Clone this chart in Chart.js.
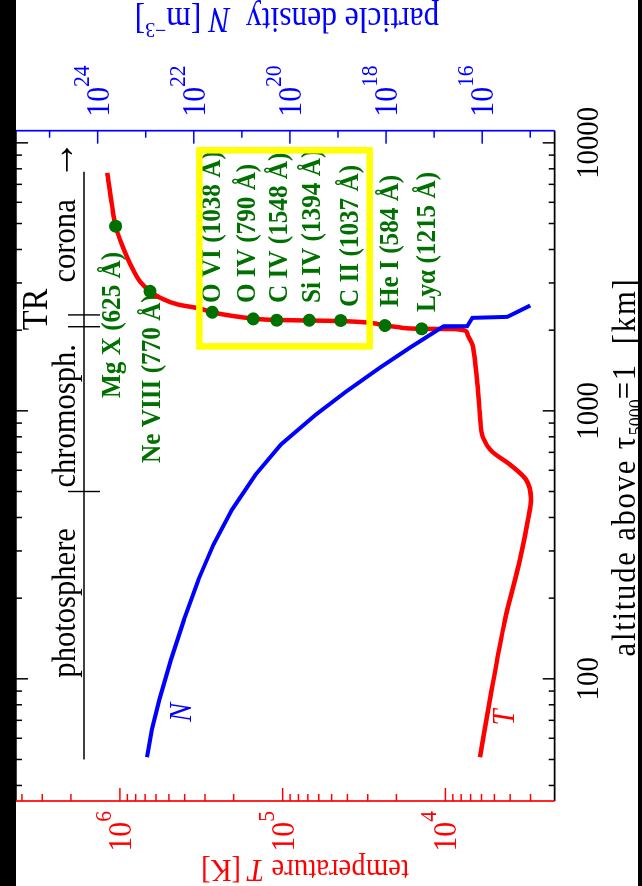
<!DOCTYPE html>
<html>
<head>
<meta charset="utf-8">
<script src="https://cdn.jsdelivr.net/npm/chart.js@4.4.1/dist/chart.umd.min.js"></script>
<style>
html, body { margin: 0; padding: 0; background: #000; overflow: hidden; }
#wrap { position: absolute; left: 0; top: 0; width: 886px; height: 642px;
        transform-origin: 0 0; transform: translateY(886px) rotate(-90deg); }
</style>
</head>
<body>
<div id="wrap"><canvas id="chart" width="886" height="642"></canvas></div>
<script>
// temperature curve: altitude [km] and T [K]
const tempAlt = [51, 84, 166, 279, 393, 467, 554, 630, 705, 795, 952, 1309, 1737, 1960, 2019, 2023, 2048, 2081, 2163, 2173,
                 2183, 2211, 2268, 2333, 2408, 2493, 2647, 2795, 3037, 3367, 4174, 4885, 5887, 7727];
const tempK = [6125, 5321, 4302, 3479, 3107, 2978, 3197, 4009, 5172, 5875, 6125, 6395, 6768, 7367, 8730, 13990, 19010, 23500, 43900, 68900,
               109000, 152000, 211000, 272000, 322000, 440000, 568000, 654000, 753000, 832000, 972000, 1063000, 1120000, 1197000];

// particle density curve: altitude [km] and N [m^-3]
const densAlt = [51, 65, 84, 118, 166, 235, 317, 428, 578, 749, 969, 1180, 1451, 1723, 2063, 2069, 2223, 2242, 2472];
const densN = [9.4e22, 7.4e22, 5.18e22, 2.98e22, 1.6e22, 7.98e21, 3.89e21, 1.6e21, 5.19e20, 1.53e20, 2.86e19, 6.78e18, 1.33e18, 3.16e17,
               6.5e16, 2.05e16, 1.6e16, 3.0e15, 1.0e15];

// spectral lines (green dots on the T curve)
const lineNames = ['Mg X (625 Å)', 'Ne VIII (770 Å)', 'O VI (1038 Å)', 'O IV (790 Å)', 'C IV (1548 Å)', 'Si IV (1394 Å)',
                   'C II (1037 Å)', 'He I (584 Å)', 'Lyα (1215 Å)'];
const lineAlt = [4885, 2795, 2333, 2204, 2178, 2178, 2173, 2081, 2023];
const lineTemp = [1063000, 654000, 270800, 151600, 108900, 68640, 44000, 23500, 13985];
const lineLabelAlt = [1116, 639, 2525, 2525, 2525, 2525, 2440, 2440, 2338]; // where each label starts

// atmosphere layers
const regionNames = ['photosphere', 'chromosph.', 'TR', 'corona'];
const regionLabelAlt = [101, 517, 2000, 3011];
const regionEdges = [500, 2060, 2280];
const regionSpan = [50, 7800];

// axes
const altMajor = [100, 1000, 10000];
const altMinor = [40, 50, 60, 70, 80, 90, 200, 300, 400, 500, 600, 700, 800, 900,
                  2000, 3000, 4000, 5000, 6000, 7000, 8000, 9000];
const tempMajor = [1e4, 1e5, 1e6];
const tempExp = ['4', '5', '6'];
const tempMinor = [3000, 4000, 5000, 6000, 7000, 8000, 9000, 2e4, 3e4, 4e4, 5e4, 6e4, 7e4, 8e4, 9e4,
                   2e5, 3e5, 4e5, 5e5, 6e5, 7e5, 8e5, 9e5, 2e6, 3e6, 4e6];
const densMajor = [1e16, 1e18, 1e20, 1e22, 1e24];
const densExp = ['16', '18', '20', '22', '24'];
const densMinor = [1e15, 1e17, 1e19, 1e21, 1e23, 1e25];

// yellow box around the TR lines (T range, altitude range)
const boxTemp = [3.25e5, 2.92e4];
const boxAlt = [1740, 9380];

const RED = '#ff0000', BLUE = '#0000ff', GREEN = '#007000', YELLOW = '#ffff00';
const SERIF = '"Liberation Serif", "Times New Roman", serif';
const SQUEEZE = 0.9; // text in the picture is a bit narrow

function fontOf(p) { return (p.style || '') + ' ' + p.size + 'px ' + SERIF; }

// draw a run of text pieces (for superscripts / italics); p.ls = extra letter spacing
function drawText(ctx, x, y, pieces, align, color, rot) {
  ctx.save();
  ctx.translate(x, y);
  if (rot) ctx.rotate(rot);
  ctx.scale(SQUEEZE, 1);
  ctx.fillStyle = color;
  ctx.textBaseline = 'alphabetic';
  ctx.textAlign = 'left';
  const items = [];
  pieces.forEach(p => {
    ctx.font = fontOf(p);
    const parts = p.ls ? p.t.split('') : [p.t];
    parts.forEach(t => items.push({ p: p, t: t, w: ctx.measureText(t).width + (p.ls || 0) }));
  });
  const w = items.reduce((s, it) => s + it.w, 0);
  let cx = align === 'right' ? -w : align === 'center' ? -w / 2 : 0;
  items.forEach(it => { ctx.font = fontOf(it.p); ctx.fillText(it.t, cx, it.p.dy || 0); cx += it.w; });
  ctx.restore();
}

function line(ctx, x1, y1, x2, y2) {
  ctx.beginPath(); ctx.moveTo(x1, y1); ctx.lineTo(x2, y2); ctx.stroke();
}

const decor = {
  id: 'decor',
  beforeDraw(chart) {
    const ctx = chart.ctx, a = chart.chartArea;
    ctx.save();
    ctx.fillStyle = '#000';
    ctx.fillRect(0, 0, chart.width, chart.height);
    ctx.fillStyle = '#fff';
    ctx.fillRect(0, a.top, chart.width, 638 - a.top);
    ctx.restore();
  },
  beforeDatasetsDraw(chart) {
    const ctx = chart.ctx, a = chart.chartArea;
    const sx = chart.scales.x, sT = chart.scales.yT, sN = chart.scales.yN;
    ctx.save();
    ctx.lineWidth = 1.5;

    // inward ticks
    ctx.strokeStyle = '#000';
    altMajor.concat(altMinor).forEach(v => {
      const u = sx.getPixelForValue(v), len = altMajor.includes(v) ? 12 : 6;
      line(ctx, u, a.top, u, a.top + len);
      line(ctx, u, a.bottom, u, a.bottom - len);
    });
    ctx.strokeStyle = RED;
    tempMajor.concat(tempMinor).forEach(v => {
      const p = sT.getPixelForValue(v), len = tempMajor.includes(v) ? 13 : 7;
      line(ctx, a.left, p, a.left + len, p);
    });
    ctx.strokeStyle = BLUE;
    densMajor.concat(densMinor).forEach(v => {
      const p = sN.getPixelForValue(v), len = densMajor.includes(v) ? 13 : 7;
      line(ctx, a.right, p, a.right - len, p);
    });

    // frame
    ctx.lineWidth = 1.7;
    ctx.strokeStyle = '#000';
    line(ctx, a.left, a.top, a.right, a.top);
    line(ctx, a.left, a.bottom, a.right, a.bottom);
    ctx.strokeStyle = RED;
    line(ctx, a.left, a.top, a.left, a.bottom);
    ctx.strokeStyle = BLUE;
    line(ctx, a.right, a.top, a.right, a.bottom);

    // tick labels
    altMajor.forEach(v => drawText(ctx, sx.getPixelForValue(v), a.bottom + 43, [{ t: String(v), size: 32 }], 'center', '#000'));
    tempMajor.forEach((v, i) => drawText(ctx, a.left - 10, sT.getPixelForValue(v) + 11,
      [{ t: '10', size: 33 }, { t: tempExp[i], size: 24, dy: -20 }], 'right', RED));
    densMajor.forEach((v, i) => drawText(ctx, a.right + 14, sN.getPixelForValue(v) + 11,
      [{ t: '10', size: 33 }, { t: densExp[i], size: 24, dy: -20 }], 'left', BLUE));

    // axis titles
    drawText(ctx, 419, a.bottom + 80, [{ t: 'altitude above ', size: 34, ls: 2 }, { t: 'τ', size: 34, ls: 2 },
      { t: '5000', size: 20, dy: 8 }, { t: '=1  [km]', size: 34, ls: 2 }], 'center', '#000');
    drawText(ctx, 26, 305, [{ t: 'temperature ', size: 32 }, { t: 'T', size: 32, style: 'italic' },
      { t: ' [K]', size: 32 }], 'center', RED, -Math.PI / 2);
    drawText(ctx, 878, 287, [{ t: 'particle density  ', size: 35 }, { t: 'N', size: 35, style: 'italic' },
      { t: ' [m', size: 35 }, { t: '\u22123', size: 22, dy: -15 }, { t: ']', size: 35 }], 'center', BLUE, -Math.PI / 2);

    // layer bar
    ctx.strokeStyle = '#000';
    ctx.lineWidth = 1.4;
    const barV = 84;
    line(ctx, sx.getPixelForValue(regionSpan[0]), barV, sx.getPixelForValue(regionSpan[1]), barV);
    regionEdges.forEach(h => { const u = sx.getPixelForValue(h); line(ctx, u, barV - 16, u, barV + 16); });
    const regionV = [75, 75, 47, 75];
    const regionSize = [34, 34, 36, 34];
    regionNames.forEach((s, i) => {
      const pieces = [{ t: s, size: regionSize[i] }];
      if (s === 'corona') pieces.push({ t: '  \u2192', size: 44, dy: -1 });
      drawText(ctx, sx.getPixelForValue(regionLabelAlt[i]), regionV[i], pieces, 'left', '#000');
    });

    // line labels
    const labelV = [120, 160, 220, 255, 287, 320, 358, 398, 435];
    lineNames.forEach((s, i) => drawText(ctx, sx.getPixelForValue(lineLabelAlt[i]), labelV[i],
      [{ t: s, size: 28, style: 'bold' }], 'left', GREEN));

    // curve names
    drawText(ctx, sx.getPixelForValue(69), 191, [{ t: 'N', size: 32, style: 'italic' }], 'left', BLUE);
    drawText(ctx, sx.getPixelForValue(67), 514, [{ t: 'T', size: 32, style: 'italic' }], 'left', RED);
    ctx.restore();
  },
  afterDatasetsDraw(chart) {
    const ctx = chart.ctx, sx = chart.scales.x, sT = chart.scales.yT;
    const u1 = sx.getPixelForValue(boxAlt[0]), u2 = sx.getPixelForValue(boxAlt[1]);
    const v1 = sT.getPixelForValue(boxTemp[0]), v2 = sT.getPixelForValue(boxTemp[1]);
    ctx.save();
    ctx.strokeStyle = YELLOW;
    ctx.lineWidth = 6.5;
    ctx.strokeRect(u1, v1, u2 - u1, v2 - v1);
    ctx.restore();
  }
};

function fixedTicks(list) {
  return scale => { scale.ticks = list.map(v => ({ value: v })); };
}

const hidden = { grid: { display: false }, border: { display: false }, ticks: { display: false } };

new Chart(document.getElementById('chart'), {
  type: 'line',
  data: {
    datasets: [
      {
        label: 'lines',
        data: lineAlt.map((h, i) => ({ x: h, y: lineTemp[i] })),
        yAxisID: 'yT',
        showLine: false,
        pointRadius: 6.5,
        pointBackgroundColor: GREEN,
        pointBorderWidth: 0,
        order: 0
      },
      {
        label: 'N',
        data: densAlt.map((h, i) => ({ x: h, y: densN[i] })),
        yAxisID: 'yN',
        borderColor: BLUE,
        borderWidth: 4,
        pointRadius: 0,
        tension: 0,
        order: 1
      },
      {
        label: 'T',
        data: tempAlt.map((h, i) => ({ x: h, y: tempK[i] })),
        yAxisID: 'yT',
        borderColor: RED,
        borderWidth: 4.5,
        pointRadius: 0,
        cubicInterpolationMode: 'monotone',
        order: 2
      }
    ]
  },
  options: {
    responsive: false,
    animation: false,
    events: [],
    layout: { padding: { top: 16, left: 0, right: 0, bottom: 0 } },
    plugins: { legend: { display: false }, tooltip: { enabled: false } },
    scales: {
      x: Object.assign({ type: 'logarithmic', position: 'bottom', min: 35, max: 11100,
        afterBuildTicks: fixedTicks(altMajor.concat(altMinor)), afterFit: s => { s.height = 87.3; } }, hidden),
      yT: Object.assign({ type: 'logarithmic', position: 'left', min: 2130, max: 4.35e6,
        afterBuildTicks: fixedTicks(tempMajor.concat(tempMinor)), afterFit: s => { s.width = 85; } }, hidden),
      yN: Object.assign({ type: 'logarithmic', position: 'right', min: 3.1e14, max: 5e25,
        afterBuildTicks: fixedTicks(densMajor.concat(densMinor)), afterFit: s => { s.width = 130.7; } }, hidden)
    }
  },
  plugins: [decor]
});
</script>
</body>
</html>
